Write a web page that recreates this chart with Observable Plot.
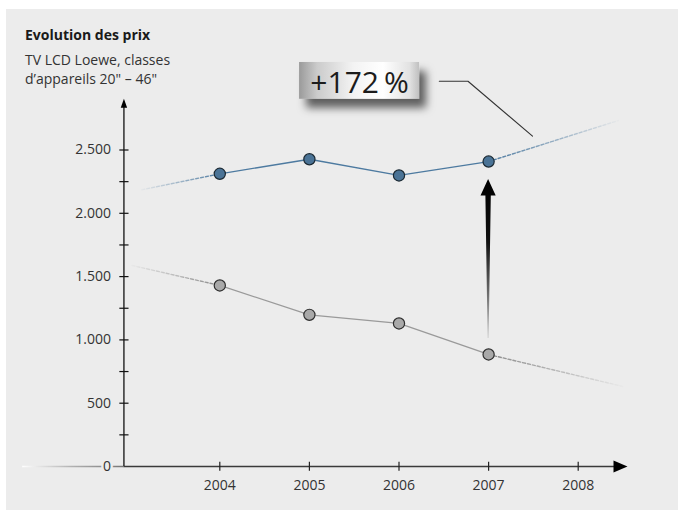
<!DOCTYPE html>
<html><head><meta charset="utf-8">
<script src="https://cdn.jsdelivr.net/npm/d3@7"></script>
<script src="https://cdn.jsdelivr.net/npm/@observablehq/plot@0.6"></script>
<style>
html,body{margin:0;padding:0;background:#fff;}
#wrap{position:relative;width:684px;height:517px;overflow:hidden;font-family:"Open Sans",sans-serif;}
#bg{position:absolute;left:6px;top:9px;right:6px;bottom:7px;background:#ececec;}
#chart{position:absolute;left:0;top:0;}
.t{position:absolute;left:25px;white-space:nowrap;line-height:19px;color:#333;font-size:14px;}
</style></head><body>
<div id="wrap"><div id="bg"></div><div id="chart"></div>
<div class="t" style="top:25px;font-weight:700;font-size:14px;color:#1a1a1a">Evolution des prix</div>
<div class="t" style="top:50px">TV LCD Loewe, classes</div>
<div class="t" style="top:69px">d’appareils 20" – 46"</div>
</div>
<script>
// ---- data ----
const years = [2004, 2005, 2006, 2007];
const priceBlue = [2312, 2427, 2299, 2409];
const priceGray = [1430, 1198, 1130, 885];
const blueTrendYears = [2003.13, 2008.45];
const blueTrendValues = [2186, 2733];
const grayTrendYears = [2003.02, 2008.5];
const grayTrendValues = [1588, 632];
const xTicks = [2004, 2005, 2006, 2007, 2008];
const yTicks = [0, 500, 1000, 1500, 2000, 2500];
const yMinorTicks = [250, 750, 1250, 1750, 2250];
const calloutText = "+172\u2009%";
const calloutYear = 2005.56, calloutValue = 3046;
const leaderYears = [2006.45, 2006.77, 2007.49];
const leaderValues = [3043, 3043, 2609];
const xAxisOrigin = 2002.93, xAxisEnd = 2008.55, xAxisFadeStart = 2001.8, yAxisTop = 2905;

// ---- scales ----
const xOpts = {type: "linear", domain: [2004, 2008], range: [219.3, 577.7]};
const yOpts = {type: "linear", domain: [0, 2500], range: [466, 149.5]};
const sx = Plot.scale({x: xOpts});
const sy = Plot.scale({y: yOpts});

const fmt = d3.formatLocale({decimal: ",", thousands: ".", grouping: [3], currency: ["", " €"]}).format(",d");

const blue = years.map((x, i) => ({x, y: priceBlue[i]}));
const gray = years.map((x, i) => ({x, y: priceGray[i]}));
const blueL = [{x: blueTrendYears[0], y: blueTrendValues[0]}, blue[0]];
const blueR = [blue[blue.length - 1], {x: blueTrendYears[1], y: blueTrendValues[1]}];
const grayL = [{x: grayTrendYears[0], y: grayTrendValues[0]}, gray[0]];
const grayR = [gray[gray.length - 1], {x: grayTrendYears[1], y: grayTrendValues[1]}];
const leader = leaderYears.map((x, i) => ({x, y: leaderValues[i]}));

// arrow between the 2007 values
const ax = sx.apply(years[3]);
const yBot = sy.apply(priceGray[3]) - 16;
const yTip = sy.apply(priceBlue[3]) + 18;
const arrowData = [
  {py: yBot, a: 0.5}, {py: yTip + 16.5, a: 2.7}, {py: yTip + 16.5, a: 7.6}, {py: yTip, a: 0}
].map(d => ({y: sy.invert(d.py), x1: sx.invert(ax - d.a), x2: sx.invert(ax + d.a)}));

// callout box
const cx = sx.apply(calloutYear), cy = sy.apply(calloutValue);
const box = [{x1: sx.invert(cx - 60), x2: sx.invert(cx + 60), y1: sy.invert(cy + 18.4), y2: sy.invert(cy - 18.4)}];

// symbols
const arrowUp = {draw(c) { c.moveTo(0, 0); c.lineTo(3.2, 9); c.lineTo(-3.2, 9); c.closePath(); }};
const arrowRight = {draw(c) { c.moveTo(0, 0); c.lineTo(-14, -6); c.lineTo(-14, 6); c.closePath(); }};
const hTick = {draw(c) { c.moveTo(-4.6, 0); c.lineTo(4.6, 0); }};
const vTick = {draw(c) { c.moveTo(0, -4.8); c.lineTo(0, 4.2); }};

const blueC = "#4d7aa0", grayC = "#9a9a9a";

const svg = Plot.plot({
  width: 684, height: 517, margin: 0,
  style: {background: "transparent", fontFamily: "Open Sans", fontSize: "14px", color: "#333", overflow: "visible"},
  x: {...xOpts, axis: null},
  y: {...yOpts, axis: null},
  marks: [
    // x axis
    Plot.ruleY([0], {x1: xAxisFadeStart, x2: xAxisOrigin, stroke: "url(#axisFade)", strokeWidth: 1.4}),
    Plot.ruleY([0], {x1: xAxisOrigin, x2: sx.invert(sx.apply(xAxisEnd) - 10), stroke: "#3a3a3a", strokeWidth: 1.3}),
    Plot.dot([xAxisEnd], {x: d => d, y: () => 0, symbol: arrowRight, fill: "#000", stroke: "none"}),
    Plot.dot(xTicks, {x: d => d, y: () => 0, symbol: vTick, fill: "none", stroke: "#222", strokeWidth: 1.2}),
    Plot.text(xTicks, {x: d => d, y: () => 0, text: d => String(d), dy: 19.5, fontSize: 14, fill: "#333"}),
    // y axis
    Plot.ruleX([xAxisOrigin], {y1: 0, y2: sy.invert(sy.apply(yAxisTop) + 5), stroke: "#111", strokeWidth: 1.3}),
    Plot.dot([yAxisTop], {x: () => xAxisOrigin, y: d => d, symbol: arrowUp, fill: "#000", stroke: "none"}),
    Plot.dot([...yTicks.slice(1), ...yMinorTicks], {x: () => xAxisOrigin, y: d => d, symbol: hTick, fill: "none", stroke: "#111", strokeWidth: 1.2}),
    Plot.text(yTicks, {x: () => xAxisOrigin, y: d => d, text: d => fmt(d), textAnchor: "end", dx: -13, fontSize: 14, fill: "#333", stroke: "#ececec", strokeWidth: 5}),
    // trend extensions
    Plot.line(blueL, {x: "x", y: "y", stroke: "url(#blueFadeL)", strokeWidth: 1.4, strokeDasharray: "3,2"}),
    Plot.line(blueR, {x: "x", y: "y", stroke: "url(#blueFadeR)", strokeWidth: 1.4, strokeDasharray: "3,2"}),
    Plot.line(grayL, {x: "x", y: "y", stroke: "url(#grayFadeL)", strokeWidth: 1.4, strokeDasharray: "3,2"}),
    Plot.line(grayR, {x: "x", y: "y", stroke: "url(#grayFadeR)", strokeWidth: 1.4, strokeDasharray: "3,2"}),
    // series
    Plot.line(blue, {x: "x", y: "y", stroke: blueC, strokeWidth: 1.3}),
    Plot.line(gray, {x: "x", y: "y", stroke: grayC, strokeWidth: 1.3}),
    Plot.dot(blue, {x: "x", y: "y", r: 5.6, fill: "#4a7396", stroke: "#1b2933", strokeWidth: 1.2}),
    Plot.dot(gray, {x: "x", y: "y", r: 5.6, fill: "#a9a9a9", stroke: "#2e2e2e", strokeWidth: 1.2}),
    // arrow
    Plot.areaX(arrowData, {y: "y", x1: "x1", x2: "x2", fill: "url(#arrowGrad)"}),
    // leader + callout
    Plot.line(leader, {x: "x", y: "y", stroke: "#333", strokeWidth: 1.1}),
    Plot.rect(box, {x1: "x1", x2: "x2", y1: "y1", y2: "y2", fill: "url(#boxGrad)"}),
    Plot.text([calloutText], {x: () => calloutYear, y: () => calloutValue, text: d => d, fontSize: 30, dy: 2.4, fill: "#1c1c1c"})
  ]
});

const s = d3.select(svg);
const defs = s.insert("defs", ":first-child");
function grad(id, stops, attrs = {}) {
  const g = defs.append("linearGradient").attr("id", id);
  Object.entries(attrs).forEach(([k, v]) => g.attr(k, v));
  stops.forEach(([o, c, op]) => g.append("stop").attr("offset", o).attr("stop-color", c).attr("stop-opacity", op));
}
grad("axisFade", [[0, "#ffffff", 1], [0.5, "#b0b0b0", 1], [1, "#777", 1]],
  {gradientUnits: "userSpaceOnUse", x1: sx.apply(xAxisFadeStart), x2: sx.apply(xAxisOrigin), y1: 0, y2: 0});
grad("blueFadeL", [[0, blueC, 0.05], [0.5, blueC, 0.5], [1, blueC, 1]], {x1: 0, x2: 1, y1: 0, y2: 0});
grad("blueFadeR", [[0, blueC, 1], [0.5, blueC, 0.55], [1, blueC, 0.03]], {x1: 0, x2: 1, y1: 0, y2: 0});
grad("grayFadeL", [[0, "#8a8a8a", 0.05], [0.5, "#8a8a8a", 0.5], [1, "#8a8a8a", 1]], {x1: 0, x2: 1, y1: 0, y2: 0});
grad("grayFadeR", [[0, "#8a8a8a", 1], [0.5, "#8a8a8a", 0.55], [1, "#8a8a8a", 0.03]], {x1: 0, x2: 1, y1: 0, y2: 0});
grad("arrowGrad", [[0, "#d0d0d0", 1], [0.3, "#666", 1], [0.6, "#111", 1], [1, "#000", 1]], {x1: 0, y1: 1, x2: 0, y2: 0});
grad("boxGrad", [[0, "#9a9a9a", 1], [0.15, "#cbcbcb", 1], [0.45, "#f3f3f3", 1], [0.7, "#ffffff", 1], [0.92, "#e2e2e2", 1], [1, "#c0c0c0", 1]], {x1: 0, x2: 1, y1: 0, y2: 0});
const f = defs.append("filter").attr("id", "shadow").attr("x", "-30%").attr("y", "-50%").attr("width", "170%").attr("height", "240%");
f.append("feDropShadow").attr("dx", 7).attr("dy", 9).attr("stdDeviation", 4.5).attr("flood-color", "#000").attr("flood-opacity", 0.6);
s.selectAll("rect").filter(function() {
  const p = this.parentNode;
  return (this.getAttribute("fill") || "").includes("boxGrad") || (p && (p.getAttribute("fill") || "").includes("boxGrad"));
}).attr("filter", "url(#shadow)");

document.getElementById("chart").appendChild(svg);
</script>
</body></html>
